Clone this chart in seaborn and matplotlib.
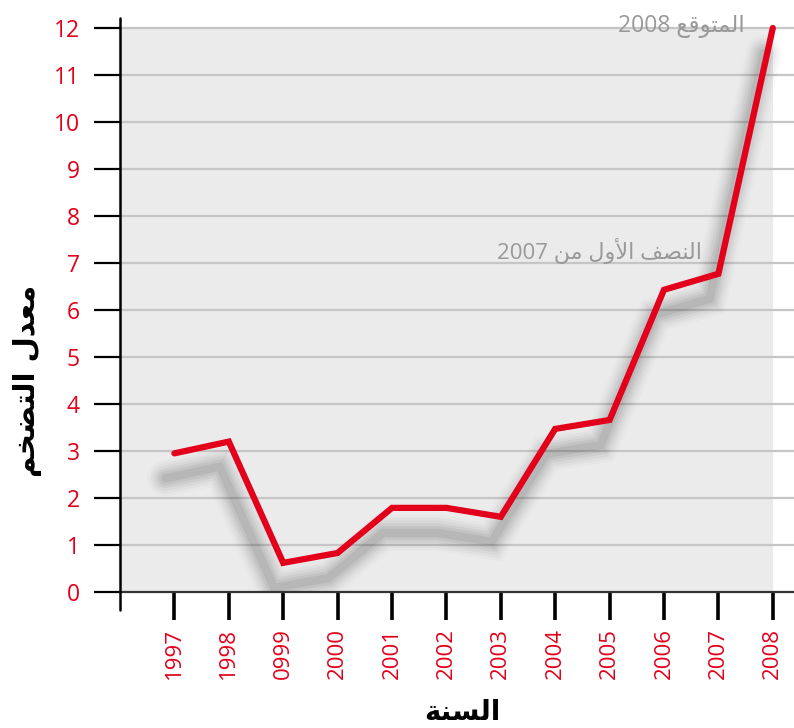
import seaborn as sns
import matplotlib.pyplot as plt
import matplotlib.patheffects as pe
import pandas as pd

# data
years = [1997, 1998, 1999, 2000, 2001, 2002, 2003, 2004, 2005, 2006, 2007, 2008]
inflation = [2.95, 3.2, 0.62, 0.83, 1.79, 1.79, 1.6, 3.47, 3.66, 6.43, 6.77, 12.0]
year_labels = ['1997', '1998', '0999', '2000', '2001', '2002', '2003',
               '2004', '2005', '2006', '2007', '2008']
y_ticks = list(range(0, 13))

# Arabic text, pre-shaped (presentation forms, visual order) since matplotlib has no shaping
ylabel_txt = '\uFEE2\uFEA8\uFEC0\uFE98\uFEDF\uFE8D \uFEDD\uFEAA\uFECC\uFEE3'      # معدل التضخم
xlabel_txt = '\uFE94\uFEE8\uFEB4\uFEDF\uFE8D'                                    # السنة
note_2008 = '2008 \uFECA\uFED7\uFEEE\uFE98\uFEE4\uFEDF\uFE8D'                    # المتوقع 2008
note_2007 = '2007 \uFEE6\uFEE3 \uFEDD\uFEED\uFEF7\uFE8D \uFED2\uFEBC\uFEE8\uFEDF\uFE8D'  # النصف الأول من 2007

df = pd.DataFrame({'year': years, 'rate': inflation})

sns.set_style('white')
plt.rcParams['font.family'] = ['Open Sans', 'DejaVu Sans']

red = '#e2001a'

fig = plt.figure(figsize=(7.94, 7.28), dpi=100)
ax = fig.add_axes([120 / 794, 1 - 592 / 728, 1 - 120 / 794, (592 - 18) / 728])

# grey plot area up to 2008
ax.fill_between([1996, 2008], 0, 12, color='#ebebeb', zorder=0, lw=0)

# grid lines
for v in y_ticks[1:]:
    ax.axhline(v, color='#c6c6c6', lw=1.6, zorder=1)

# the line with a soft, blurred drop shadow
shadow = [pe.SimpleLineShadow(offset=(-6.5, -18), shadow_color='#222222', alpha=a, linewidth=w)
          for w, a in [(26, 0.02), (22, 0.03), (18, 0.04), (14, 0.05), (10, 0.06), (6, 0.07)]]
sns.lineplot(data=df, x='year', y='rate', color=red, lw=4.5, ax=ax, zorder=3,
             path_effects=shadow + [pe.Normal()])
ax.lines[-1].set_solid_joinstyle('miter')

ax.set_xlim(1996, 1996 + 674 / 54.4)
ax.set_ylim(0, 12 + 10 / 47)

ax.set_xticks(years)
ax.set_xticklabels(year_labels, rotation=90, color=red, fontsize=16)
ax.set_yticks(y_ticks)
ax.set_yticklabels([str(v) for v in y_ticks], color=red, fontsize=16.5)
ax.tick_params(axis='x', length=20, width=2.6, color='black', pad=6, bottom=True)
ax.tick_params(axis='y', length=19, width=1.6, color='black', pad=10, left=True)

for s in ['top', 'right']:
    ax.spines[s].set_visible(False)
ax.spines['left'].set_visible(False)
ax.plot([0, 0], [-18 / 574, 1], transform=ax.transAxes, color='black', lw=1.8,
        clip_on=False, zorder=5)
ax.spines['bottom'].set_color('#333333')
ax.spines['bottom'].set_linewidth(1.6)
ax.spines['bottom'].set_zorder(4)

ax.set_xlabel('')
ax.set_ylabel('')

# annotations
ax.text(2007.49, 12.04, note_2008, ha='right', va='center', fontsize=16.5,
        color='#999999', family=['Open Sans', 'DejaVu Sans'], zorder=2)
ax.text(2006.70, 7.26, note_2007, ha='right', va='center', fontsize=16,
        color='#999999', family=['Open Sans', 'DejaVu Sans'], zorder=2)

# axis titles
fig.text(28 / 794, 1 - 381 / 728, ylabel_txt, rotation=90, ha='center', va='center',
         fontsize=21, fontweight='bold', color='black', family=['DejaVu Sans'])
fig.text(462 / 794, 1 - 726 / 728, xlabel_txt, ha='center', va='bottom',
         fontsize=20, fontweight='bold', color='black', family=['DejaVu Sans'])

fig.savefig('out.png', dpi=100)
